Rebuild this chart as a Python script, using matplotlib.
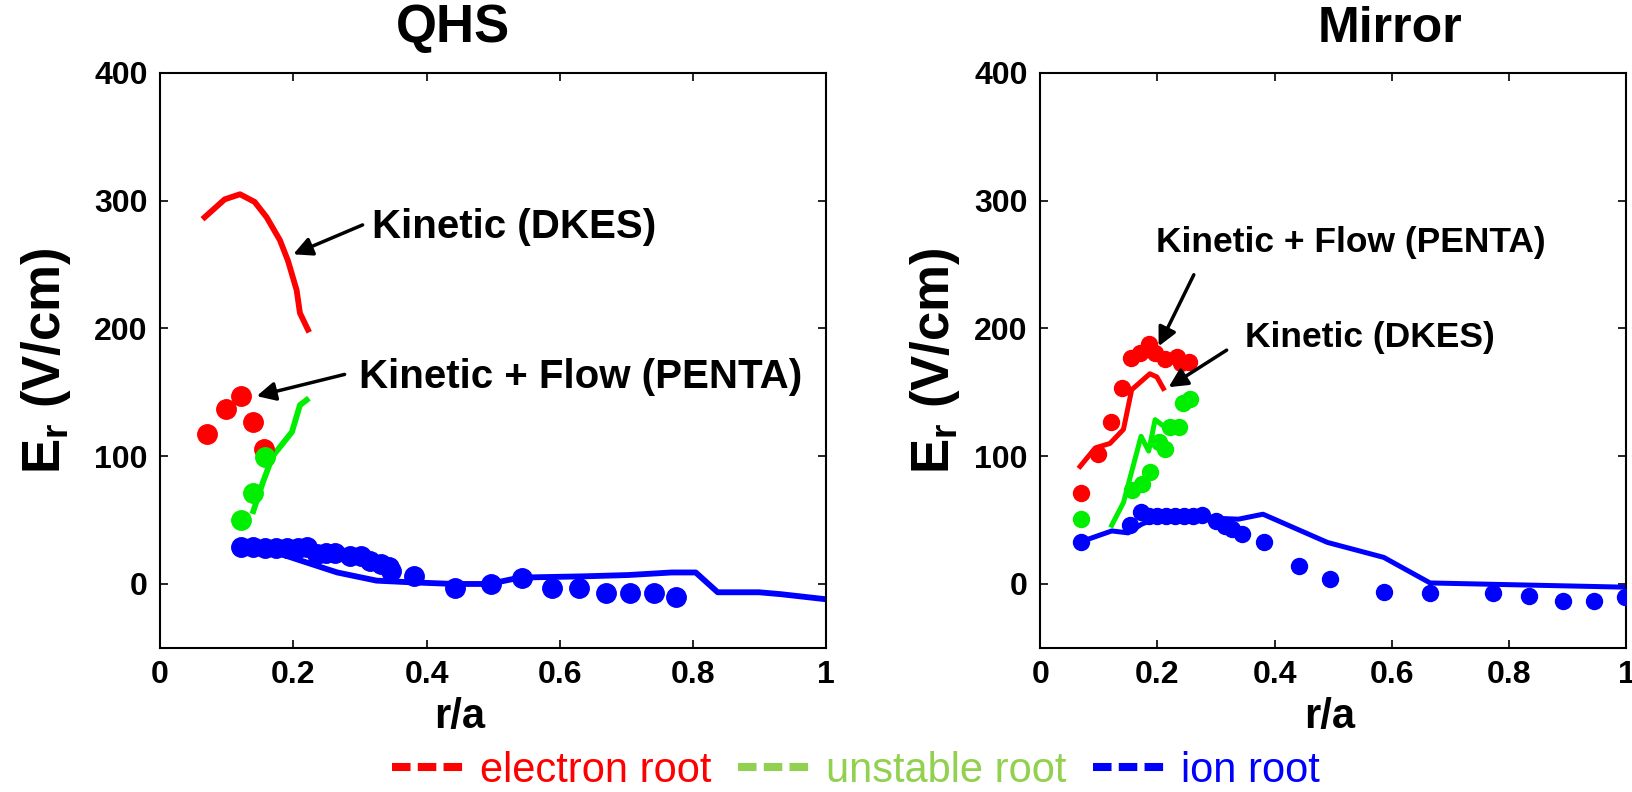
import matplotlib
matplotlib.use('Agg')
import matplotlib.pyplot as plt
from matplotlib.lines import Line2D

plt.rcParams['font.family'] = ['Liberation Sans', 'DejaVu Sans']
plt.rcParams['mathtext.fontset'] = 'custom'
plt.rcParams['mathtext.rm'] = 'Liberation Sans:bold'
plt.rcParams['mathtext.it'] = 'Liberation Sans:bold'
plt.rcParams['mathtext.bf'] = 'Liberation Sans:bold'
plt.rcParams['mathtext.default'] = 'regular'

# ---- QHS data ----
qhs_e_line_x = [0.067, 0.097, 0.120, 0.142, 0.160, 0.180, 0.192, 0.205, 0.210, 0.222]
qhs_e_line_y = [287, 301, 305, 299, 287, 269, 253, 230, 212, 199]
qhs_e_dot_x = [0.070, 0.099, 0.121, 0.140, 0.156]
qhs_e_dot_y = [117, 137, 147, 127, 106]
qhs_u_line_x = [0.140, 0.154, 0.169, 0.198, 0.210, 0.220]
qhs_u_line_y = [57, 79, 100, 119, 140, 144]
qhs_u_dot_x = [0.121, 0.139, 0.157]
qhs_u_dot_y = [50, 71, 99]
qhs_i_line_x = [0.122, 0.174, 0.213, 0.266, 0.325, 0.377, 0.442, 0.494, 0.540,
                0.638, 0.703, 0.768, 0.804, 0.837, 0.899, 0.932, 1.0]
qhs_i_line_y = [28, 24.7, 18, 9, 2.6, 1.3, 0, 0, 5, 6, 7, 9, 9, -6.5, -6.5, -8, -12]
qhs_i_dot_x = [0.122, 0.140, 0.157, 0.174, 0.190, 0.207, 0.220, 0.236, 0.249, 0.262,
               0.285, 0.301, 0.315, 0.331, 0.343, 0.347, 0.381, 0.443, 0.496, 0.543,
               0.589, 0.629, 0.669, 0.705, 0.741, 0.774]
qhs_i_dot_y = [28.6, 28.6, 28, 28, 28, 28, 28.6, 23.5, 24, 24.5, 22, 21.5, 18, 16, 13,
               10.5, 6, -3, 0, 4.4, -3, -3, -7, -7, -7, -10]

# ---- Mirror data ----
mir_e_line_x = [0.068, 0.094, 0.119, 0.142, 0.156, 0.187, 0.199, 0.210]
mir_e_line_y = [92, 106.5, 110, 121, 152, 164.5, 162, 153]
mir_e_dot_x = [0.069, 0.099, 0.121, 0.140, 0.155, 0.170, 0.186, 0.196, 0.213, 0.233, 0.240, 0.254]
mir_e_dot_y = [71.5, 102, 127, 153, 177, 180.6, 188, 180.6, 176, 177.5, 173, 174]
mir_u_line_x = [0.122, 0.142, 0.172, 0.185, 0.196, 0.207]
mir_u_line_y = [46, 63.7, 115.6, 104, 128.6, 124.7]
mir_u_dot_x = [0.069, 0.156, 0.173, 0.187, 0.202, 0.213, 0.222, 0.236, 0.243, 0.256]
mir_u_dot_y = [50.7, 73.5, 78, 88, 111, 105.8, 123, 123, 142, 144.7]
mir_i_line_x = [0.069, 0.122, 0.150, 0.173, 0.196, 0.270, 0.338, 0.380, 0.490, 0.586, 0.665, 0.997]
mir_i_line_y = [33, 41.5, 40, 46.8, 51, 52, 50.7, 54.6, 32.5, 20.8, 0.8, -2.5]
mir_i_dot_x = [0.069, 0.153, 0.172, 0.185, 0.200, 0.215, 0.230, 0.245, 0.260, 0.276,
               0.299, 0.316, 0.327, 0.344, 0.381, 0.442, 0.494, 0.586, 0.665, 0.772,
               0.834, 0.891, 0.945, 0.997]
mir_i_dot_y = [33, 46, 56, 53, 53, 53, 53, 53, 53, 54, 49, 45, 43, 39, 33, 14.3, 4,
               -6.5, -7, -7, -9.6, -13, -13, -10]

xticks = [0, 0.2, 0.4, 0.6, 0.8, 1]
xticklabels = ['0', '0.2', '0.4', '0.6', '0.8', '1']
yticks = [0, 100, 200, 300, 400]

RED, GREEN, BLUE = '#ff0000', '#00ee00', '#0000ff'
LEG_GREEN = '#92d050'

fig = plt.figure(figsize=(16.33, 7.92), dpi=100)
ax1 = fig.add_axes([0.098, 0.182, 0.408, 0.726])
ax2 = fig.add_axes([0.637, 0.182, 0.359, 0.726])


def draw_panel(ax, series, lw, ms):
    for lx, ly, dx, dy, c in series:
        ax.plot(lx, ly, '-', color=c, lw=lw, zorder=2)
        ax.plot(dx, dy, 'o', color=c, ms=ms, mec=c, zorder=3)
    ax.set_xlim(0, 1)
    ax.set_ylim(-50, 400)
    ax.set_xticks(xticks)
    ax.set_xticklabels(xticklabels)
    ax.set_yticks(yticks)
    ax.tick_params(direction='in', length=6, width=1.2, top=True, right=True,
                   labelsize=23, pad=9)
    for lab in ax.get_xticklabels() + ax.get_yticklabels():
        lab.set_fontweight('bold')
    for s in ax.spines.values():
        s.set_linewidth(1.5)
    ax.set_xlabel('r/a', fontsize=30, fontweight='bold')
    ax.set_ylabel(r'$E_r$ (V/cm)', fontsize=38, fontweight='bold')


draw_panel(ax1, [(qhs_e_line_x, qhs_e_line_y, qhs_e_dot_x, qhs_e_dot_y, RED),
                 (qhs_u_line_x, qhs_u_line_y, qhs_u_dot_x, qhs_u_dot_y, GREEN),
                 (qhs_i_line_x, qhs_i_line_y, qhs_i_dot_x, qhs_i_dot_y, BLUE)],
           lw=4.2, ms=14)
draw_panel(ax2, [(mir_e_line_x, mir_e_line_y, mir_e_dot_x, mir_e_dot_y, RED),
                 (mir_u_line_x, mir_u_line_y, mir_u_dot_x, mir_u_dot_y, GREEN),
                 (mir_i_line_x, mir_i_line_y, mir_i_dot_x, mir_i_dot_y, BLUE)],
           lw=3.6, ms=11.5)

ax1.xaxis.set_label_coords(0.45, -0.085)
ax2.xaxis.set_label_coords(0.494, -0.085)
ax1.yaxis.set_label_coords(-0.13, 0.5)
ax2.yaxis.set_label_coords(-0.134, 0.5)

ax1.set_title('QHS', fontsize=38, fontweight='bold', x=0.44, y=1.04)
ax2.set_title('Mirror', fontsize=36, fontweight='bold', x=0.597, y=1.04)

arrow = dict(arrowstyle='-|>', color='k', lw=2.5, mutation_scale=28, shrinkA=0, shrinkB=0)
ax1.annotate('', xy=(0.2, 258), xytext=(0.304, 281), arrowprops=arrow)
ax1.text(0.318, 279, 'Kinetic (DKES)', fontsize=29, fontweight='bold', va='center')
ax1.annotate('', xy=(0.145, 147), xytext=(0.277, 164), arrowprops=arrow)
ax1.text(0.298, 162, 'Kinetic + Flow (PENTA)', fontsize=29, fontweight='bold', va='center')

ax2.annotate('', xy=(0.202, 186), xytext=(0.262, 242), arrowprops=arrow)
ax2.text(0.197, 267, 'Kinetic + Flow (PENTA)', fontsize=25.5, fontweight='bold', va='center')
ax2.annotate('', xy=(0.219, 154), xytext=(0.318, 183), arrowprops=arrow)
ax2.text(0.35, 193, 'Kinetic (DKES)', fontsize=25.5, fontweight='bold', va='center')

dash = (0, (2.3, 0.9))
handles = [Line2D([], [], color=RED, lw=5.8, ls=dash),
           Line2D([], [], color=LEG_GREEN, lw=5.8, ls=dash),
           Line2D([], [], color=BLUE, lw=5.8, ls=dash)]
fig.legend(handles, ['electron root', 'unstable root', 'ion root'], loc='center',
           bbox_to_anchor=(0.524, 0.027), ncol=3, frameon=False, fontsize=30,
           handlelength=1.7, handletextpad=0.4, columnspacing=0.65,
           labelcolor='linecolor', borderpad=0)

fig.savefig('out.png', dpi=100)
